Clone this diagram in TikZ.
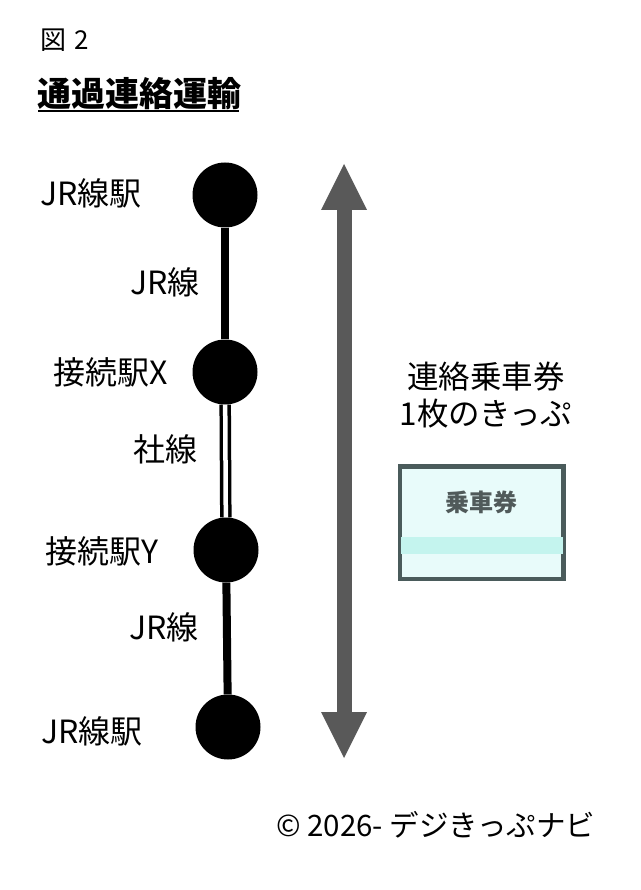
\documentclass[tikz,border=0pt]{standalone}
\usepackage{fontspec}
\setmainfont{Noto Sans CJK JP}
\usetikzlibrary{arrows.meta}
\definecolor{arrowgray}{HTML}{595959}
\definecolor{ticketedge}{HTML}{4A5B5B}
\definecolor{ticketfill}{HTML}{E8FBFA}
\definecolor{ticketband}{HTML}{C4F4EE}
\definecolor{tickettext}{HTML}{505A5A}
\begin{document}
\begin{tikzpicture}[x=1pt,y=-1pt,
  station/.style={circle,fill=black,minimum size=65pt,inner sep=0pt},
  lbl/.style={inner sep=0pt,font=\fontsize{32}{34}\selectfont},
  jrline/.style={line width=8pt},
  privline/.style={double,line width=3.5pt,double distance=4.5pt},
  bigarrow/.style={line width=15pt,draw=arrowgray,
    {Triangle[width=46pt,length=46pt,line width=0pt]}-{Triangle[width=46pt,length=46pt,line width=0pt]}}]
\useasboundingbox (0,0) rectangle (640,890);
\fill[white] (0,0) rectangle (640,890);

% header
\node[lbl,anchor=base west,font=\fontsize{26}{28}\selectfont] (fig) at (40,50) {図\,\,2};
\node[lbl,anchor=base west,font=\fontsize{34}{36}\bfseries\selectfont] (title) at (37,107) {通過連絡運輸};
\draw[line width=1.6pt] (38,111) -- (239,111);

% stations
\node[station] (s1) at (225,195) {};
\node[station] (s2) at (225,372) {};
\node[station] (s3) at (226,550) {};
\node[station] (s4) at (228,727) {};
\draw[jrline] (s1) -- (s2);
\draw[privline] (s2) -- (s3);
\draw[jrline] (s3) -- (s4);

% labels
\node[lbl,anchor=base west] (l1) at (40,206) {JR線駅};
\node[lbl,anchor=base east] (l2) at (200,294) {JR線};
\node[lbl,anchor=base east] (l3) at (168,384) {接続駅X};
\node[lbl,anchor=base east] (l4) at (198,461) {社線};
\node[lbl,anchor=base east] (l5) at (159,563) {接続駅Y};
\node[lbl,anchor=base east] (l6) at (199,639) {JR線};
\node[lbl,anchor=base west] (l7) at (41,743) {JR線駅};

% arrow
\coordinate (atop) at (344,164);
\coordinate (abot) at (344,758);
\draw[bigarrow] (atop) -- (abot);

\node[lbl,anchor=base,font=\fontsize{31.5}{33}\selectfont] (t1) at (486,388) {連絡乗車券};
\node[lbl,anchor=base,font=\fontsize{31.5}{33}\selectfont] (t2) at (486,425) {1枚のきっぷ};

% ticket
\node[draw=ticketedge,line width=3pt,fill=ticketfill,minimum width=162pt,minimum height=111pt,inner sep=0pt] (ticket) at (481.5,522.5) {};
\fill[ticketband] ([xshift=1.5pt,yshift=-14.5pt]ticket.west) rectangle ([xshift=-1.5pt,yshift=-31.5pt]ticket.east);
\draw[ticketedge,line width=3pt] (ticket.north west) rectangle (ticket.south east);
\node[lbl,anchor=base,font=\fontsize{24}{26}\bfseries\selectfont,text=tickettext] (tt) at (481,511) {乗車券};

% footer
\node[lbl,anchor=base west,font=\fontsize{29.5}{31}\selectfont] (copy) at (276,836) {© 2026- デジきっぷナビ};
\end{tikzpicture}
\end{document}
